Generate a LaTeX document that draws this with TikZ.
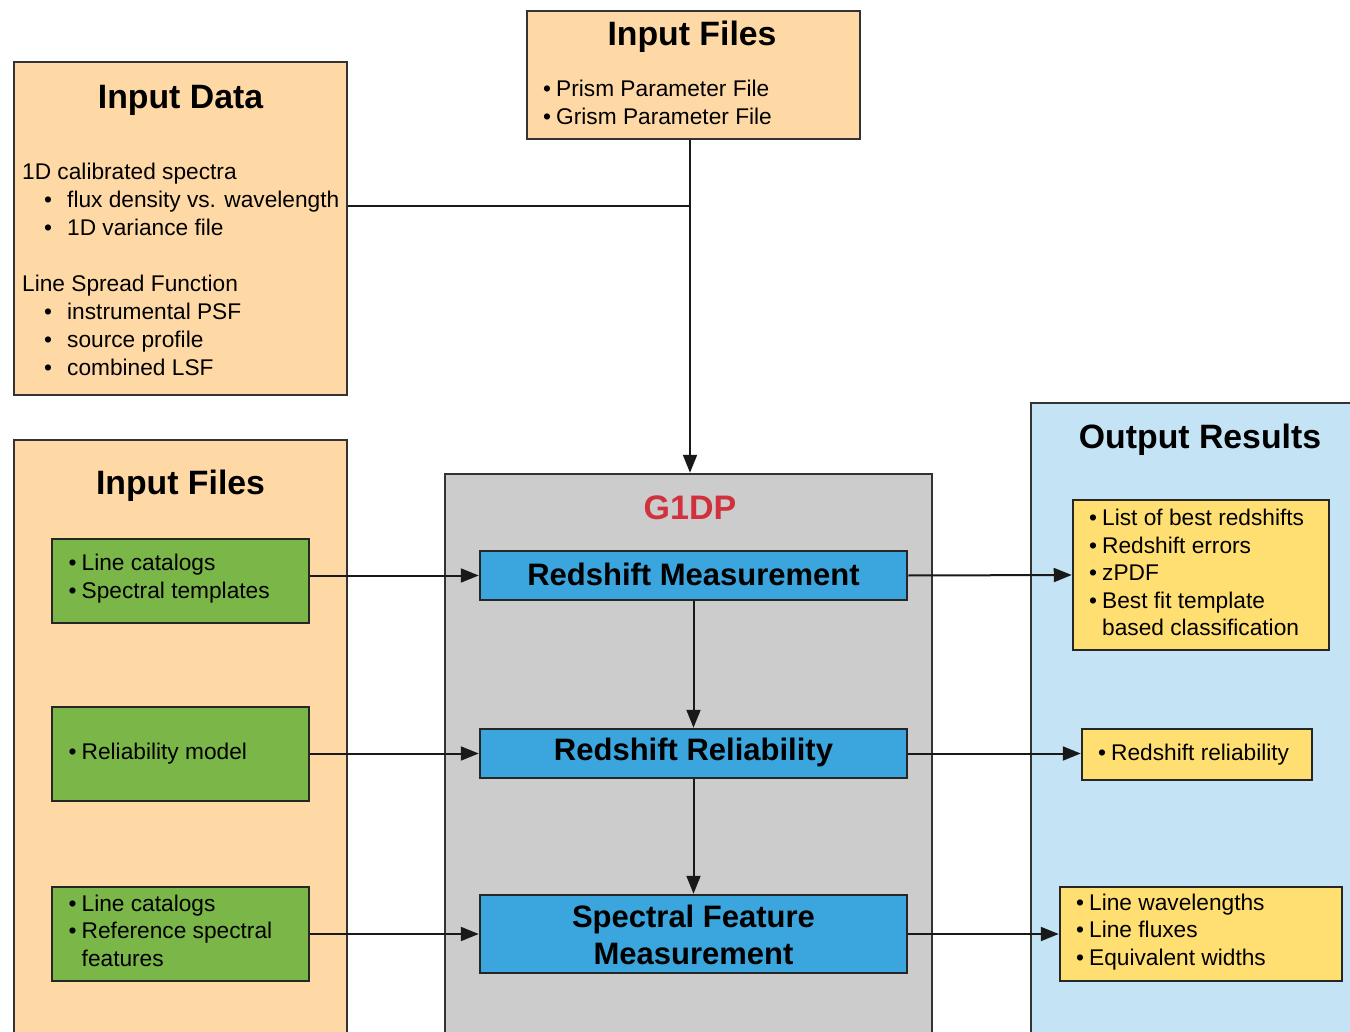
\documentclass[tikz,border=0pt]{standalone}
\usepackage{fontspec}
\setmainfont{Liberation Sans}
\usetikzlibrary{arrows.meta}
\definecolor{orangefill}{HTML}{FFD9A5}
\definecolor{greenfill}{HTML}{7AB648}
\definecolor{bluefill}{HTML}{3AA6DD}
\definecolor{yellowfill}{HTML}{FFDF71}
\definecolor{lightblue}{HTML}{C4E4F6}
\definecolor{grayfill}{HTML}{CCCCCC}
\definecolor{redtext}{HTML}{D0313C}
\definecolor{linegray}{HTML}{333333}
\newcommand\bl{\makebox[13pt][l]{\textbullet}}
\newcommand\bsp{\hspace*{13pt}}
\newcommand\wbl{\hspace*{22pt}\makebox[23pt][l]{\textbullet}}
\begin{document}
\begin{tikzpicture}[x=1pt,y=-1pt,
  outerbox/.style={draw=linegray, line width=2.5pt, inner sep=0pt},
  innerbox/.style={draw=black!85, line width=2.5pt, inner sep=0pt},
  txt/.style={inner sep=0pt, align=left, font=\fontsize{22.7}{27.5}\selectfont},
  ttl/.style={inner sep=0pt, font=\bfseries\fontsize{33.8}{38}\selectfont},
  btxt/.style={inner sep=0pt, align=center, font=\bfseries\fontsize{31}{37}\selectfont},
  conn/.style={line width=2pt, draw=black!90},
  arr/.style={conn, -{Triangle[length=18pt,width=14pt]}}]
\useasboundingbox (0,0) rectangle (1350,1032);
\clip (0,0) rectangle (1350,1032);
\fill[white] (0,0) rectangle (1350,1032);

% outer containers
\node[outerbox, fill=orangefill, minimum width=333pt, minimum height=333pt] (indata) at (180.5,228.5) {};
\node[outerbox, fill=orangefill, minimum width=333pt, minimum height=128pt] (topfiles) at (693.5,75) {};
\node[outerbox, fill=orangefill, minimum width=333pt, minimum height=620pt] (leftfiles) at (180.5,750) {};
\node[outerbox, fill=grayfill, minimum width=487pt, minimum height=586pt] (g1dp) at (688.5,767) {};
\node[outerbox, fill=lightblue, minimum width=349pt, minimum height=657pt] (output) at (1205.5,731.5) {};

% titles
\node[ttl] (indatattl) at (180.5,100) {Input Data};
\node[ttl] (topfilesttl) at (692,37) {Input Files};
\node[ttl] (leftfilesttl) at (180.5,486) {Input Files};
\node[ttl] (outputttl) at (1200,440) {Output Results};
\node[inner sep=0pt, font=\bfseries\fontsize{34}{38}\selectfont, text=redtext] (g1dpttl) at (690,508) {G1DP};

% texts of outer boxes
\node[txt, anchor=west, font=\fontsize{22.7}{28}\selectfont] (indatatxt) at (22,272) {\begin{tabular}{@{}l@{}}
1D calibrated spectra\\
\wbl flux density vs. wavelength\\
\wbl 1D variance file\\
\\
Line Spread Function\\
\wbl instrumental PSF\\
\wbl source profile\\
\wbl combined LSF
\end{tabular}};
\node[txt, anchor=west] (topfilesttxt) at (543,105) {\begin{tabular}{@{}l@{}}
\bl Prism Parameter File\\
\bl Grism Parameter File
\end{tabular}};

% green input boxes
\node[innerbox, fill=greenfill, minimum width=257pt, minimum height=84pt] (green1) at (180.5,581) {};
\node[innerbox, fill=greenfill, minimum width=257pt, minimum height=94pt] (green2) at (180.5,754) {};
\node[innerbox, fill=greenfill, minimum width=257pt, minimum height=94pt] (green3) at (180.5,934) {};
\node[txt, anchor=west] (green1txt) at (68.5,579) {\begin{tabular}{@{}l@{}}
\bl Line catalogs\\
\bl Spectral templates
\end{tabular}};
\node[txt, anchor=west] (green2txt) at (68.5,754) {\bl Reliability model};
\node[txt, anchor=west] (green3txt) at (68.5,933) {\begin{tabular}{@{}l@{}}
\bl Line catalogs\\
\bl Reference spectral\\
\bsp features
\end{tabular}};

% blue process boxes
\node[innerbox, fill=bluefill, minimum width=427pt, minimum height=49pt] (rm) at (693.5,575.5) {};
\node[innerbox, fill=bluefill, minimum width=427pt, minimum height=49pt] (rr) at (693.5,753.5) {};
\node[innerbox, fill=bluefill, minimum width=427pt, minimum height=78pt] (sfm) at (693.5,934) {};
\node[btxt] (rmtxt) at (693.5,574) {Redshift Measurement};
\node[btxt] (rrtxt) at (693.5,752) {Redshift Reliability};
\node[btxt] (sfmtxt) at (693.5,935) {Spectral Feature\\Measurement};

% yellow output boxes
\node[innerbox, fill=yellowfill, minimum width=256pt, minimum height=150pt] (y1) at (1201,575) {};
\node[innerbox, fill=yellowfill, minimum width=230pt, minimum height=51pt] (y2) at (1197,754.5) {};
\node[innerbox, fill=yellowfill, minimum width=282pt, minimum height=94pt] (y3) at (1201,934) {};
\node[txt, anchor=west] (y1txt) at (1089,575) {\begin{tabular}{@{}l@{}}
\bl List of best redshifts\\
\bl Redshift errors\\
\bl zPDF\\
\bl Best fit template\\
\bsp based classification
\end{tabular}};
\node[txt, anchor=west] (y2txt) at (1098,755) {\bl Redshift reliability};
\node[txt, anchor=west] (y3txt) at (1076,932) {\begin{tabular}{@{}l@{}}
\bl Line wavelengths\\
\bl Line fluxes\\
\bl Equivalent widths
\end{tabular}};

% connectors
\coordinate (J) at (690,206);
\draw[conn] (J -| indata.east) -- (J);
\draw[arr] (topfiles.south -| J) -- (g1dp.north -| J);
\draw[arr] (rm.west -| green1.east) -- (rm.west);
\draw[arr] (rr.west -| green2.east) -- (rr.west);
\draw[arr] (sfm.west -| green3.east) -- (sfm.west);
\draw[arr] (rm.east) -- (y1.west);
\draw[arr] (rr.east) -- (rr.east -| y2.west);
\draw[arr] (sfm.east) -- (y3.west);
\draw[arr] (rm.south) -- (rr.north);
\draw[arr] (rr.south) -- (sfm.north);
\end{tikzpicture}
\end{document}
